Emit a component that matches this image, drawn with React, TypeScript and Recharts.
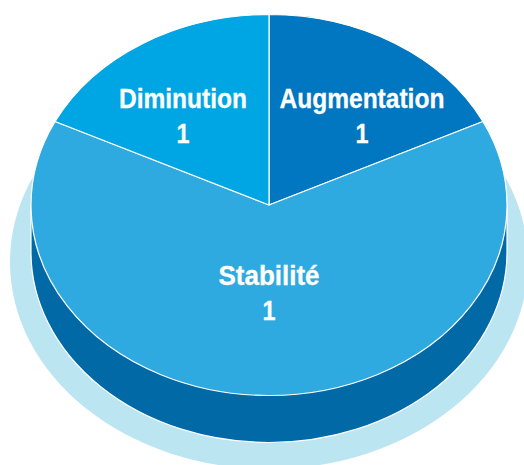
import React from "react"
import { PieChart, Pie, Cell } from "recharts"

const categories = ["Augmentation", "Stabilité", "Diminution"]
// angular share of each slice as drawn (degrees of the tilted disc)
const sliceShares = [64, 232, 64]
// the numbers printed on the slices
const printedValues = [1, 1, 1]
const sliceColors = ["#0077c0", "#2eaae1", "#00a6e4"]

const W = 524
const H = 465
const CX = 269
const CY = 205
const RX = 238
const SQUASH = 190.5 / 238
const DEPTH = 47

const pieData = categories.map((name, i) => ({ name, value: sliceShares[i], printed: printedValues[i] }))
const wholeDisc = [{ name: "disc", value: 1 }]

const rad = (deg: number) => (deg * Math.PI) / 180

// sector drawn on an ellipse instead of a circle
function TiltedSector(props: any) {
  const { cx, cy, outerRadius, startAngle, endAngle, fill } = props
  const rx = outerRadius
  const ry = outerRadius * SQUASH
  const x1 = cx + rx * Math.cos(rad(startAngle))
  const y1 = cy - ry * Math.sin(rad(startAngle))
  const x2 = cx + rx * Math.cos(rad(endAngle))
  const y2 = cy - ry * Math.sin(rad(endAngle))
  const large = Math.abs(startAngle - endAngle) > 180 ? 1 : 0
  const d = `M${cx},${cy} L${x1},${y1} A${rx},${ry} 0 ${large} 1 ${x2},${y2} Z`
  return <path d={d} fill={fill} stroke="#fff" strokeWidth={1.2} strokeLinejoin="round" />
}

function Halo(props: any) {
  const { cx, cy, outerRadius, fill } = props
  return <ellipse cx={cx} cy={cy} rx={outerRadius} ry={207} fill={fill} />
}

// side wall of the disc: lower half of the ellipse pushed down by DEPTH
function SideWall(props: any) {
  const { cx, cy, outerRadius, fill } = props
  const rx = outerRadius
  const ry = outerRadius * SQUASH
  const d = `M${cx - rx},${cy - DEPTH} L${cx - rx},${cy} A${rx},${ry} 0 0 0 ${cx + rx},${cy} L${cx + rx},${cy - DEPTH} Z`
  return <path d={d} fill={fill} stroke="#fff" strokeWidth={1.2} />
}

const LABEL_X = [0.737, 0, 0.682]
const LABEL_Y = [0.558, 0.458, 0.558]
const LABEL_WIDTHS = [165, 101, 128]

function SliceLabel(props: any) {
  const { cx, cy, outerRadius, midAngle, index } = props
  const rx = outerRadius
  const ry = outerRadius * SQUASH
  const x = cx + rx * LABEL_X[index] * Math.cos(rad(midAngle))
  const y = cy - ry * LABEL_Y[index] * Math.sin(rad(midAngle))
  const style = {
    fontFamily: "'Liberation Sans', sans-serif",
    fontWeight: 700,
    fontSize: 28,
  }
  return (
    <g fill="#fff" stroke="#fff" strokeWidth={0.3} textAnchor="middle" style={style}>
      <text x={x} y={y - 7} textLength={LABEL_WIDTHS[index]} lengthAdjust="spacingAndGlyphs">
        {categories[index]}
      </text>
      <text x={x} y={y + 28} textLength={13} lengthAdjust="spacingAndGlyphs">
        {printedValues[index]}
      </text>
    </g>
  )
}

export default function App() {
  return (
    <div style={{ position: "absolute", left: 0, top: 0, width: W, height: H, background: "#fff" }}>
      <PieChart width={W} height={H} margin={{ top: 0, right: 0, bottom: 0, left: 0 }}>
        <Pie
          data={wholeDisc}
          dataKey="value"
          cx={CX}
          cy={262}
          outerRadius={259}
          fill="#bce5f2"
          stroke="none"
          shape={Halo}
          isAnimationActive={false}
        />
        <Pie
          data={wholeDisc}
          dataKey="value"
          cx={CX}
          cy={CY + DEPTH}
          outerRadius={RX}
          fill="#0069a6"
          stroke="none"
          shape={SideWall}
          isAnimationActive={false}
        />
        <Pie
          data={pieData}
          dataKey="value"
          nameKey="name"
          cx={CX}
          cy={CY}
          outerRadius={RX}
          startAngle={90}
          endAngle={-270}
          shape={TiltedSector}
          label={SliceLabel}
          labelLine={false}
          isAnimationActive={false}
        >
          {pieData.map((d, i) => (
            <Cell key={d.name} fill={sliceColors[i]} />
          ))}
        </Pie>
      </PieChart>
    </div>
  )
}
